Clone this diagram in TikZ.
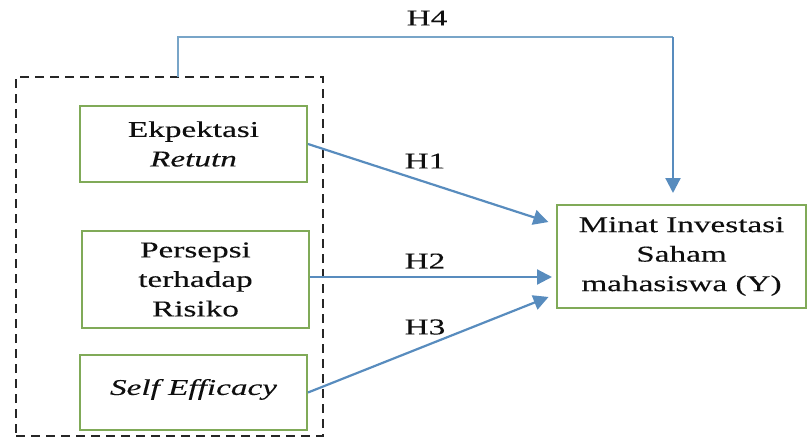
\documentclass[tikz,border=0pt]{standalone}
\usepackage{fontspec}
\setmainfont{Liberation Serif}[FakeStretch=1.47,FakeBold=0.2]
\usetikzlibrary{arrows.meta,calc}
\definecolor{boxgreen}{RGB}{128,170,88}
\definecolor{arrowblue}{RGB}{88,140,190}
\definecolor{linkblue}{RGB}{120,165,200}
\definecolor{ink}{RGB}{15,15,15}
\tikzset{
  varbox/.style={draw=boxgreen, line width=2pt, fill=white, rectangle,
    align=center, inner sep=0pt, text=ink,
    font=\fontsize{22.6}{29.5}\selectfont},
  groupbox/.style={draw=black!85, line width=2.8pt, dash pattern=on 9pt off 6pt,
    rectangle, inner sep=0pt},
  hyp/.style={draw=arrowblue, line width=2.2pt,
    -{Triangle[length=15pt,width=15pt]}},
  hlabel/.style={text=ink, font=\fontsize{22.6}{30}\selectfont, inner sep=0pt},
}
\begin{document}
\begin{tikzpicture}[x=1pt,y=-1pt]
\useasboundingbox (0,0) rectangle (807,440);
% grouping frame around the independent variables
\node[groupbox, minimum width=307pt, minimum height=359pt] (grp) at (169.5,256.5) {};
% independent variables
\node[varbox, minimum width=227pt, minimum height=76pt] (ret) at (193.5,144) {Ekpektasi\\\textit{Retutn}};
\node[varbox, minimum width=227pt, minimum height=97pt] (risk) at (195.5,279.5) {Persepsi\\terhadap\\Risiko};
\node[varbox, minimum width=227pt, minimum height=75pt, text depth=11pt] (eff) at (193.5,392.5) {\textit{Self Efficacy}};
% dependent variable
\node[varbox, minimum width=249pt, minimum height=103pt] (minat) at (681.5,256.5) {Minat Investasi\\Saham\\mahasiswa (Y)};
% anchor points for the joint path H4
\coordinate (h4a) at (178,77);
\coordinate (h4b) at (178,37);
\coordinate (h4c) at (673,37);
% hypothesis paths
\draw[hyp, shorten >=8pt] (ret.east) -- ($(minat.west)+(0,-32)$);
\draw[hyp, shorten >=4pt] (risk.east |- 0,277) -- (minat.west |- 0,277);
\draw[hyp, shorten >=8pt] (eff.east) -- ($(minat.west)+(0,37.5)$);
\draw[draw=linkblue, line width=1.6pt] (h4a) -- (h4b) -- (h4c);
\draw[hyp, shorten >=11pt] (h4c) -- (h4c |- minat.north);
% labels
\node[hlabel] (l4) at (427,18) {H4};
\node[hlabel] (l1) at (425,161) {H1};
\node[hlabel] (l2) at (425,261) {H2};
\node[hlabel] (l3) at (425,327) {H3};
\end{tikzpicture}
\end{document}
